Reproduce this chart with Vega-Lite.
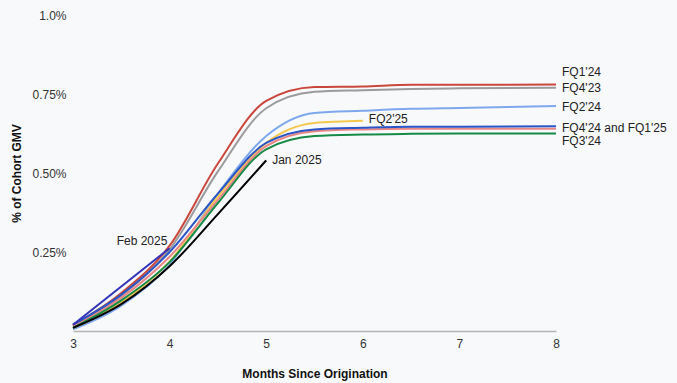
{
  "$schema": "https://vega.github.io/schema/vega-lite/v6.json",
  "width": 483,
  "height": 316,
  "autosize": {"type": "none"},
  "padding": {"left": 73, "top": 15, "right": 121, "bottom": 52},
  "background": "#f8f9fb",
  "config": {
    "view": {"stroke": null},
    "font": "Liberation Sans",
    "axis": {"grid": false, "ticks": false, "labelFont": "Liberation Sans", "titleFont": "Liberation Sans", "labelColor": "#333333", "titleColor": "#111111", "labelFontSize": 12, "titleFontSize": 12, "titleFontWeight": "bold"}
  },
  "datasets": {
    "series": [
      {"s": "FQ4'23", "m": 3, "v": 0.015}, {"s": "FQ4'23", "m": 3.5, "v": 0.112}, {"s": "FQ4'23", "m": 4, "v": 0.258}, {"s": "FQ4'23", "m": 4.5, "v": 0.505}, {"s": "FQ4'23", "m": 5, "v": 0.705}, {"s": "FQ4'23", "m": 5.5, "v": 0.757}, {"s": "FQ4'23", "m": 6, "v": 0.762}, {"s": "FQ4'23", "m": 6.5, "v": 0.766}, {"s": "FQ4'23", "m": 7, "v": 0.768}, {"s": "FQ4'23", "m": 8, "v": 0.77},
      {"s": "FQ1'24", "m": 3, "v": 0.018}, {"s": "FQ1'24", "m": 3.5, "v": 0.12}, {"s": "FQ1'24", "m": 4, "v": 0.27}, {"s": "FQ1'24", "m": 4.5, "v": 0.53}, {"s": "FQ1'24", "m": 5, "v": 0.728}, {"s": "FQ1'24", "m": 5.5, "v": 0.772}, {"s": "FQ1'24", "m": 6, "v": 0.774}, {"s": "FQ1'24", "m": 6.5, "v": 0.779}, {"s": "FQ1'24", "m": 7, "v": 0.779}, {"s": "FQ1'24", "m": 8, "v": 0.78},
      {"s": "FQ2'24", "m": 3, "v": 0.005}, {"s": "FQ2'24", "m": 3.5, "v": 0.08}, {"s": "FQ2'24", "m": 4, "v": 0.21}, {"s": "FQ2'24", "m": 4.5, "v": 0.435}, {"s": "FQ2'24", "m": 5, "v": 0.617}, {"s": "FQ2'24", "m": 5.5, "v": 0.69}, {"s": "FQ2'24", "m": 6, "v": 0.697}, {"s": "FQ2'24", "m": 6.5, "v": 0.703}, {"s": "FQ2'24", "m": 7, "v": 0.706}, {"s": "FQ2'24", "m": 8, "v": 0.712},
      {"s": "FQ2'25", "m": 3, "v": 0.01}, {"s": "FQ2'25", "m": 3.5, "v": 0.09}, {"s": "FQ2'25", "m": 4, "v": 0.22}, {"s": "FQ2'25", "m": 4.5, "v": 0.425}, {"s": "FQ2'25", "m": 5, "v": 0.595}, {"s": "FQ2'25", "m": 5.5, "v": 0.658}, {"s": "FQ2'25", "m": 6, "v": 0.665},
      {"s": "FQ1'25", "m": 3, "v": 0.015}, {"s": "FQ1'25", "m": 3.5, "v": 0.105}, {"s": "FQ1'25", "m": 4, "v": 0.235}, {"s": "FQ1'25", "m": 4.5, "v": 0.415}, {"s": "FQ1'25", "m": 5, "v": 0.585}, {"s": "FQ1'25", "m": 5.5, "v": 0.632}, {"s": "FQ1'25", "m": 6, "v": 0.638}, {"s": "FQ1'25", "m": 6.5, "v": 0.64}, {"s": "FQ1'25", "m": 7, "v": 0.64}, {"s": "FQ1'25", "m": 8, "v": 0.64},
      {"s": "FQ4'24", "m": 3, "v": 0.02}, {"s": "FQ4'24", "m": 3.5, "v": 0.115}, {"s": "FQ4'24", "m": 4, "v": 0.25}, {"s": "FQ4'24", "m": 4.5, "v": 0.435}, {"s": "FQ4'24", "m": 5, "v": 0.595}, {"s": "FQ4'24", "m": 5.5, "v": 0.638}, {"s": "FQ4'24", "m": 6, "v": 0.643}, {"s": "FQ4'24", "m": 6.5, "v": 0.646}, {"s": "FQ4'24", "m": 7, "v": 0.646}, {"s": "FQ4'24", "m": 8, "v": 0.648},
      {"s": "FQ3'24", "m": 3, "v": 0.01}, {"s": "FQ3'24", "m": 3.5, "v": 0.097}, {"s": "FQ3'24", "m": 4, "v": 0.218}, {"s": "FQ3'24", "m": 4.5, "v": 0.405}, {"s": "FQ3'24", "m": 5, "v": 0.575}, {"s": "FQ3'24", "m": 5.5, "v": 0.617}, {"s": "FQ3'24", "m": 6, "v": 0.622}, {"s": "FQ3'24", "m": 6.5, "v": 0.624}, {"s": "FQ3'24", "m": 7, "v": 0.625}, {"s": "FQ3'24", "m": 8, "v": 0.625},
      {"s": "Jan 2025", "m": 3, "v": 0.01}, {"s": "Jan 2025", "m": 3.5, "v": 0.085}, {"s": "Jan 2025", "m": 4, "v": 0.205}, {"s": "Jan 2025", "m": 4.5, "v": 0.37}, {"s": "Jan 2025", "m": 5, "v": 0.54},
      {"s": "Feb 2025", "m": 3, "v": 0.02}, {"s": "Feb 2025", "m": 4, "v": 0.262}
    ],
    "labels": [
      {"t": "FQ1'24", "m": 8, "v": 0.82},
      {"t": "FQ4'23", "m": 8, "v": 0.769},
      {"t": "FQ2'24", "m": 8, "v": 0.709},
      {"t": "FQ4'24 and FQ1'25", "m": 8, "v": 0.642},
      {"t": "FQ3'24", "m": 8, "v": 0.601},
      {"t": "FQ2'25", "m": 6, "v": 0.671},
      {"t": "Jan 2025", "m": 5, "v": 0.541},
      {"t": "Feb 2025", "m": 3.39, "v": 0.285}
    ]
  },
  "layer": [
    {
      "data": {"name": "series"},
      "mark": {"type": "line", "interpolate": "monotone", "strokeWidth": 2, "clip": false},
      "encoding": {
        "x": {"field": "m", "type": "quantitative", "scale": {"domain": [3, 8], "nice": false, "zero": false},
          "axis": {"values": [3, 4, 5, 6, 7, 8], "title": "Months Since Origination", "domainColor": "#b5b5b5", "domainWidth": 1.5, "labelPadding": 7, "labelFlush": false, "titlePadding": 19, "format": "d"}},
        "y": {"field": "v", "type": "quantitative", "scale": {"domain": [0, 1]},
          "axis": {"values": [0.25, 0.5, 0.75, 1], "domain": false, "labelExpr": "datum.value == 1 ? '1.0%' : format(datum.value, '.2f') + '%'", "labelPadding": 7, "title": "% of Cohort GMV", "titlePadding": 8}},
        "color": {"field": "s", "type": "nominal", "legend": null,
          "scale": {"domain": ["FQ4'23", "FQ1'24", "FQ2'24", "FQ2'25", "FQ1'25", "FQ4'24", "FQ3'24", "Jan 2025", "Feb 2025"],
                    "range": ["#9b9b9b", "#c9473b", "#7ea8ee", "#f4c84f", "#e98585", "#2a55c6", "#178a48", "#000000", "#3434b8"]}},
        "detail": {"field": "s"}
      }
    },
    {
      "data": {"name": "labels"},
      "mark": {"type": "text", "align": "left", "baseline": "middle", "dx": 6, "fontSize": 12, "font": "Liberation Sans", "color": "#222222"},
      "encoding": {
        "x": {"field": "m", "type": "quantitative"},
        "y": {"field": "v", "type": "quantitative"},
        "text": {"field": "t"}
      }
    }
  ]
}
